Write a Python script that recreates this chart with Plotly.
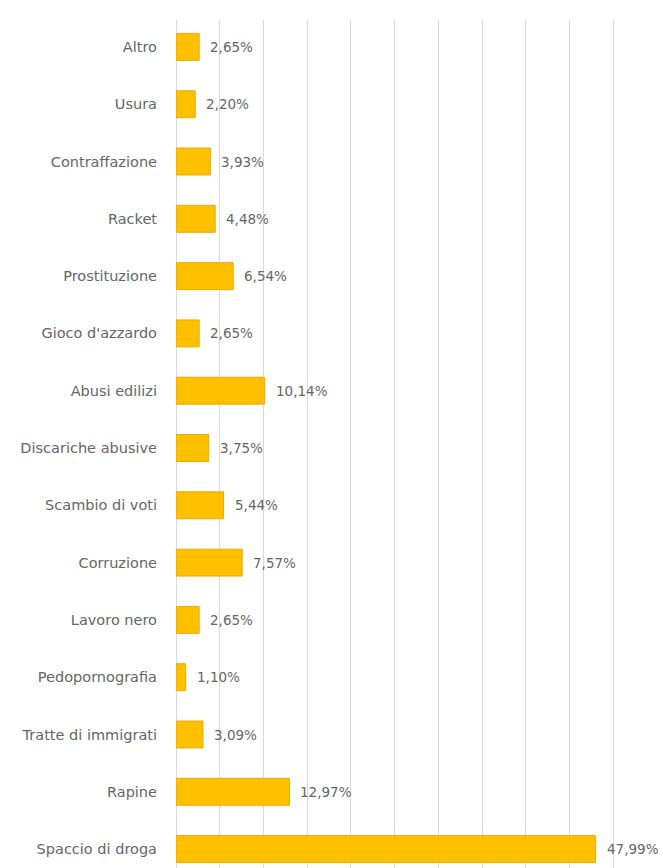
import plotly.graph_objects as go

# Categories listed top to bottom, with their shares (%)
categories = [
    "Altro", "Usura", "Contraffazione", "Racket", "Prostituzione",
    "Gioco d'azzardo", "Abusi edilizi", "Discariche abusive", "Scambio di voti",
    "Corruzione", "Lavoro nero", "Pedopornografia", "Tratte di immigrati",
    "Rapine", "Spaccio di droga",
]
values = [2.65, 2.20, 3.93, 4.48, 6.54, 2.65, 10.14, 3.75, 5.44,
          7.57, 2.65, 1.10, 3.09, 12.97, 47.99]

labels = [f"{v:.2f}".replace(".", ",") + "%" for v in values]

BAR = "#FFC000"
TEXT = "#666666"
GRID = "#D9D9D9"
FONT = "DejaVu Sans"

fig = go.Figure(
    go.Bar(
        x=values,
        y=categories,
        orientation="h",
        marker=dict(color=BAR, line=dict(color="#E8AC00", width=1)),
        width=0.47,
        hoverinfo="skip",
    )
)

# Value labels to the right of each bar
for cat, v, lab in zip(categories, values, labels):
    fig.add_annotation(
        x=v, y=cat, text=lab, showarrow=False,
        xanchor="left", yanchor="middle", xshift=9,
        font=dict(family=FONT, size=13.5, color=TEXT),
    )

fig.update_layout(
    width=663, height=868,
    margin=dict(l=176, r=48, t=20, b=0),
    paper_bgcolor="white", plot_bgcolor="white",
    showlegend=False,
    xaxis=dict(
        range=[0, 50.2], tick0=0, dtick=5,
        showgrid=True, gridcolor=GRID, gridwidth=1,
        zeroline=True, zerolinecolor=GRID, zerolinewidth=1,
        showticklabels=False, showline=False, fixedrange=True,
    ),
    yaxis=dict(
        categoryorder="array", categoryarray=categories[::-1],
        range=[-0.33, 14.47],
        showgrid=False, zeroline=False, showline=False,
        ticks="", ticklabelstandoff=18,
        tickfont=dict(family=FONT, size=14.5, color=TEXT),
        fixedrange=True,
    ),
)

fig.write_html("out.html")
